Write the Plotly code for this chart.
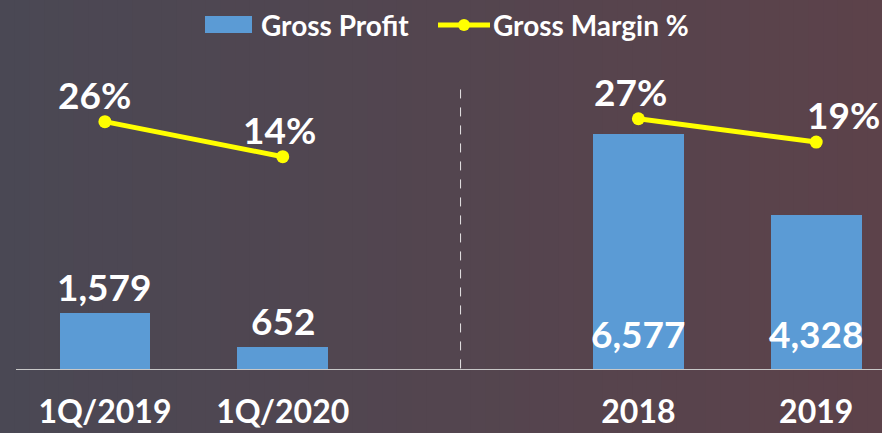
import plotly.graph_objects as go

# ---- data ----
categories = ["1Q/2019", "1Q/2020", "2018", "2019"]
x_pos = [0, 1, 3, 4]
gross_profit = [1579, 652, 6577, 4328]
profit_labels = ["1,579", "652", "6,577", "4,328"]
gross_margin = [26, 14, 27, 19]
margin_labels = ["26%", "14%", "27%", "19%"]

# ---- styling ----
W, H = 882, 433
ML, MR, MT, MB = 16, 0, 60, 63
PW, PH = W - ML - MR, H - MT - MB
FONT = "Lato"
BAR_COLOR = "#5B9BD5"
LINE_COLOR = "#FFFF00"

def px(x):
    return (x - ML) / PW

def py(y):
    return (H - MB - y) / PH

fig = go.Figure()

fig.add_trace(go.Bar(
    x=x_pos, y=gross_profit, width=0.51, marker=dict(color=BAR_COLOR, line=dict(width=0)),
    name="Gross Profit", showlegend=False, hoverinfo="skip",
))
fig.add_trace(go.Scatter(
    x=x_pos[:2], y=gross_margin[:2], mode="lines+markers", yaxis="y2",
    line=dict(color=LINE_COLOR, width=5), marker=dict(size=13, color=LINE_COLOR),
    showlegend=False, hoverinfo="skip",
))
fig.add_trace(go.Scatter(
    x=x_pos[2:], y=gross_margin[2:], mode="lines+markers", yaxis="y2",
    line=dict(color=LINE_COLOR, width=5), marker=dict(size=13, color=LINE_COLOR),
    showlegend=False, hoverinfo="skip",
))

annotations = []
label_font = dict(family=FONT, size=37, color="white", weight="bold")
# bar labels: first two above the bar, last two inside near base
inside = [False, False, True, True]
for xv, v, t, ins in zip(x_pos, gross_profit, profit_labels, inside):
    if ins:
        annotations.append(dict(x=xv, y=0, xref="x", yref="y", text=t, showarrow=False,
                                yanchor="bottom", yshift=12, font=label_font))
    else:
        annotations.append(dict(x=xv, y=v, xref="x", yref="y", text=t, showarrow=False,
                                yanchor="bottom", yshift=2, font=label_font))
# margin labels
x_shifts = [-10, -3, -8, 27]
for xv, v, t, xs in zip(x_pos, gross_margin, margin_labels, x_shifts):
    annotations.append(dict(x=xv, y=v, xref="x", yref="y2", text=t, showarrow=False,
                            yanchor="bottom", yshift=3, xshift=xs, font=label_font))

# custom legend
legend_font = dict(family=FONT, size=28, color="white", weight="bold")
annotations.append(dict(x=px(259), y=py(25), xref="paper", yref="paper", text="Gross Profit",
                        showarrow=False, xanchor="left", yanchor="middle", font=legend_font))
annotations.append(dict(x=px(491), y=py(25), xref="paper", yref="paper", text="Gross Margin %",
                        showarrow=False, xanchor="left", yanchor="middle", font=legend_font))

shapes = []
# background gradient
left_c = (74, 72, 84)
right_c = (92, 66, 74)
n = 60
for i in range(n):
    f = i / (n - 1)
    c = tuple(round(a + (b - a) * f) for a, b in zip(left_c, right_c))
    x0 = W * i / n
    x1 = W * (i + 1) / n + 1
    shapes.append(dict(type="rect", xref="paper", yref="paper",
                       x0=px(x0), x1=px(x1), y0=py(H), y1=py(0),
                       fillcolor="rgb(%d,%d,%d)" % c, line=dict(width=0), layer="below"))
# legend symbols
shapes.append(dict(type="rect", xref="paper", yref="paper", x0=px(205), x1=px(252),
                   y0=py(33), y1=py(16), fillcolor=BAR_COLOR, line=dict(width=0)))
shapes.append(dict(type="line", xref="paper", yref="paper", x0=px(438), x1=px(490),
                   y0=py(25), y1=py(25), line=dict(color=LINE_COLOR, width=5)))
shapes.append(dict(type="circle", xref="paper", yref="paper", x0=px(458), x1=px(470),
                   y0=py(31), y1=py(19), fillcolor=LINE_COLOR, line=dict(width=0)))
# separator
shapes.append(dict(type="line", xref="x", yref="paper", x0=2, x1=2, y0=0.005, y1=py(88),
                   line=dict(color="rgba(255,255,255,0.85)", width=1, dash="dash")))
# baseline
shapes.append(dict(type="line", xref="paper", yref="y", x0=0, x1=1, y0=0, y1=0,
                   line=dict(color="#c8c8c8", width=2)))

fig.update_layout(
    width=W, height=H,
    margin=dict(l=ML, r=MR, t=MT, b=MB, pad=0, autoexpand=False),
    paper_bgcolor="rgb(82,70,79)",
    plot_bgcolor="rgba(0,0,0,0)",
    showlegend=False,
    bargap=0,
    xaxis=dict(range=[-0.5, 4.37], tickvals=x_pos, ticktext=categories,
               showgrid=False, zeroline=False, showline=False, ticks="",
               automargin=False, ticklabelstandoff=20,
               tickfont=dict(family=FONT, size=32, color="white", weight="bold")),
    yaxis=dict(range=[0, 310 * 27.9], showgrid=False, zeroline=False, showticklabels=False,
               automargin=False),
    yaxis2=dict(range=[-59.0, 47.1], overlaying="y", showgrid=False, zeroline=False,
                showticklabels=False, automargin=False),
    annotations=annotations,
    shapes=shapes,
)

fig.write_html("out.html", config={"displayModeBar": False},
               post_script="document.body.style.margin='0';document.body.style.overflow='hidden';")
